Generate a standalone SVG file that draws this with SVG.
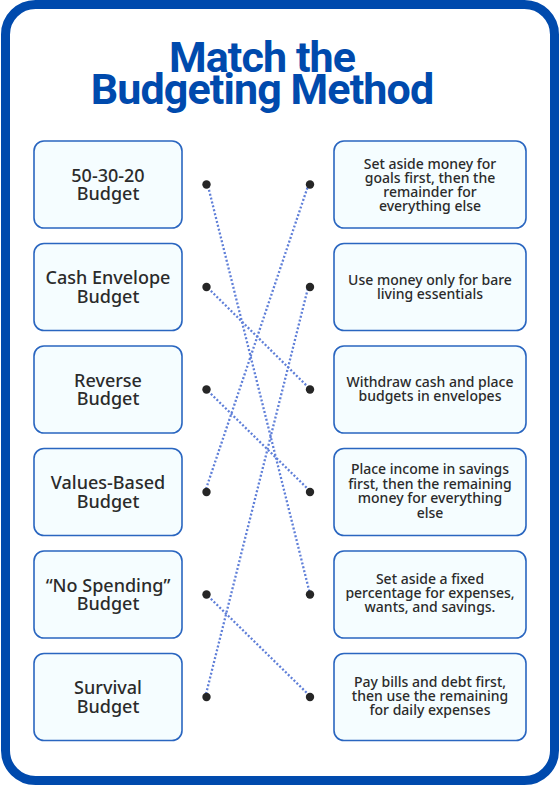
<svg xmlns="http://www.w3.org/2000/svg" width="560" height="786" viewBox="0 0 560 786">
<style>
.frame{fill:#ffffff;stroke:#004aad;stroke-width:9}
.title{font-family:Roboto,Inter,"Liberation Sans",sans-serif;font-weight:700;font-size:43px;fill:#004aad;letter-spacing:-0.9px;text-anchor:middle}
.box{fill:#f5fdff;stroke:#2a66c0;stroke-width:1.6}
.lt{font-family:"Noto Sans","Open Sans",sans-serif;font-weight:500;font-size:18px;fill:#2b2b2b;text-anchor:middle}
.rt{font-family:"Noto Sans","Open Sans",sans-serif;font-weight:500;font-size:14px;fill:#2b2b2b;text-anchor:middle}
.dot{fill:#262626}
.con{stroke:#5f7fd8;stroke-width:2.3;stroke-dasharray:2 2;fill:none}
</style>
<rect class="frame" x="5.5" y="4.5" width="549" height="776" rx="30"/>
<g id="title">
<text class="title" x="262" y="72">Match the</text>
<text class="title" x="262" y="104">Budgeting Method</text>
</g>
<g id="connectors">
<line class="con" x1="208" y1="186" x2="310" y2="594"/>
<line class="con" x1="208" y1="288" x2="310" y2="389"/>
<line class="con" x1="208" y1="391" x2="310" y2="491"/>
<line class="con" x1="206" y1="489" x2="308" y2="186"/>
<line class="con" x1="208" y1="596" x2="310" y2="696"/>
<line class="con" x1="206" y1="694" x2="308" y2="288"/>
</g>
<g id="left1"><rect class="box" x="34" y="141" width="148" height="87" rx="10"/><text class="lt" x="108" y="181.5">50-30-20</text><text class="lt" x="108" y="200">Budget</text><circle class="dot" cx="206.5" cy="184.5" r="4.2"/></g>
<g id="left2"><rect class="box" x="34" y="243.5" width="148" height="87" rx="10"/><text class="lt" x="108" y="284">Cash Envelope</text><text class="lt" x="108" y="302.5">Budget</text><circle class="dot" cx="206.5" cy="287" r="4.2"/></g>
<g id="left3"><rect class="box" x="34" y="346" width="148" height="87" rx="10"/><text class="lt" x="108" y="386.5">Reverse</text><text class="lt" x="108" y="405">Budget</text><circle class="dot" cx="206.5" cy="389.5" r="4.2"/></g>
<g id="left4"><rect class="box" x="34" y="448.5" width="148" height="87" rx="10"/><text class="lt" x="108" y="489">Values-Based</text><text class="lt" x="108" y="507.5">Budget</text><circle class="dot" cx="206.5" cy="492" r="4.2"/></g>
<g id="left5"><rect class="box" x="34" y="551" width="148" height="87" rx="10"/><text class="lt" x="108" y="591.5">“No Spending”</text><text class="lt" x="108" y="610">Budget</text><circle class="dot" cx="206.5" cy="594.5" r="4.2"/></g>
<g id="left6"><rect class="box" x="34" y="653.5" width="148" height="87" rx="10"/><text class="lt" x="108" y="694">Survival</text><text class="lt" x="108" y="712.5">Budget</text><circle class="dot" cx="206.5" cy="697" r="4.2"/></g>
<g id="right1"><rect class="box" x="334" y="141" width="192" height="87" rx="10"/><text class="rt" x="430" y="168.5">Set aside money for</text><text class="rt" x="430" y="182.5">goals first, then the</text><text class="rt" x="430" y="196.5">remainder for</text><text class="rt" x="430" y="210.5">everything else</text><circle class="dot" cx="310" cy="184.5" r="4.2"/></g>
<g id="right2"><rect class="box" x="334" y="243.5" width="192" height="87" rx="10"/><text class="rt" x="430" y="285">Use money only for bare</text><text class="rt" x="430" y="299">living essentials</text><circle class="dot" cx="310" cy="287" r="4.2"/></g>
<g id="right3"><rect class="box" x="334" y="346" width="192" height="87" rx="10"/><text class="rt" x="430" y="387">Withdraw cash and place</text><text class="rt" x="430" y="401">budgets in envelopes</text><circle class="dot" cx="310" cy="389.5" r="4.2"/></g>
<g id="right4"><rect class="box" x="334" y="448.5" width="192" height="87" rx="10"/><text class="rt" x="430" y="474">Place income in savings</text><text class="rt" x="430" y="488.5">first, then the remaining</text><text class="rt" x="430" y="503">money for everything</text><text class="rt" x="430" y="517.5">else</text><circle class="dot" cx="310" cy="492" r="4.2"/></g>
<g id="right5"><rect class="box" x="334" y="551" width="192" height="87" rx="10"/><text class="rt" x="430" y="584">Set aside a fixed</text><text class="rt" x="430" y="598">percentage for expenses,</text><text class="rt" x="430" y="612">wants, and savings.</text><circle class="dot" cx="310" cy="594.5" r="4.2"/></g>
<g id="right6"><rect class="box" x="334" y="653.5" width="192" height="87" rx="10"/><text class="rt" x="430" y="687">Pay bills and debt first,</text><text class="rt" x="430" y="701">then use the remaining</text><text class="rt" x="430" y="715">for daily expenses</text><circle class="dot" cx="310" cy="697" r="4.2"/></g>
</svg>
